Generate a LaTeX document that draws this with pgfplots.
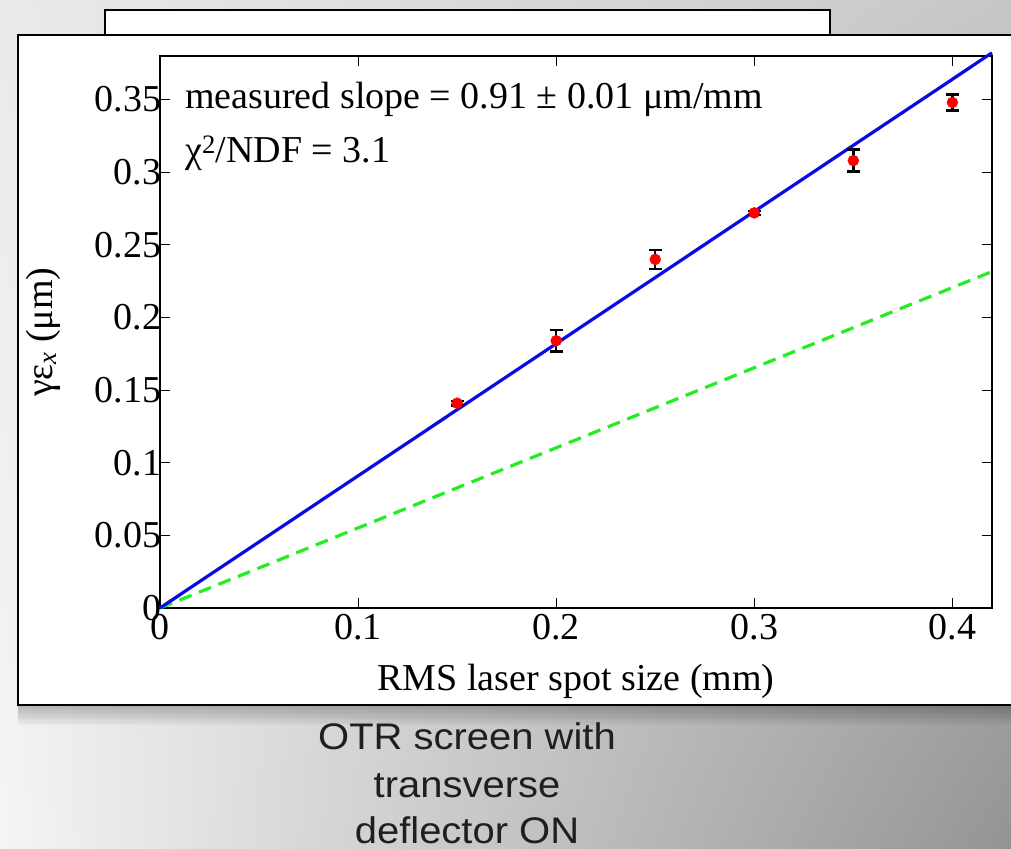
\documentclass[border=0pt]{standalone}
\usepackage{fontspec}
\setmainfont{Liberation Serif}
\newfontfamily\arialfont[FakeStretch=1.08]{Liberation Sans}
\usepackage{pgfplots}
\pgfplotsset{compat=1.18}
\usepackage{pgfplotstable}
\usetikzlibrary{shadings}
\definecolor{fitblue}{HTML}{0A0AE6}
\definecolor{refgreen}{HTML}{22EE22}

% spot size (mm), normalised emittance (um), error
\pgfplotstableread{
x     y      e
0.15  0.141  0.0015
0.20  0.184  0.0075
0.25  0.240  0.0065
0.30  0.272  0.0015
0.35  0.308  0.0075
0.40  0.348  0.0055
}\emitdata

\newcommand\bigserif{\fontsize{38}{38}\selectfont}

\begin{document}
\begin{tikzpicture}
\useasboundingbox (0,0) rectangle (1011pt,-848pt);
\clip (0,0) rectangle (1011pt,-848pt);
% slide background
\shade[upper left=black!8, upper right=black!22, lower left=black!4, lower right=black!42]
  (0,0) rectangle (1011pt,-848pt);
% frames
\fill[white, draw=black, line width=1.5pt] (105pt,-10pt) rectangle (830pt,-40pt);
\foreach \i in {1,...,8}
  \fill[black, opacity=0.03] (18pt,-705pt) rectangle (1020pt,{-705pt-2.5*\i pt});
\fill[white, draw=black, line width=1.5pt] (18pt,-35pt) rectangle (1020pt,-705pt);

\begin{axis}[
  at={(160pt,-608pt)}, anchor=south west,
  scale only axis, width=832pt, height=552pt,
  xmin=0, xmax=0.42, ymin=0, ymax=0.38,
  xtick={0,0.1,0.2,0.3,0.4},
  ytick={0,0.05,0.1,0.15,0.2,0.25,0.3,0.35},
  tick align=inside, major tick length=10pt,
  axis line style={black, line width=1.6pt},
  tick style={black, line width=1.1pt},
  /pgf/number format/.cd, fixed, precision=2, assume math mode=true,
  /pgfplots/.cd,
  ticklabel style={font=\bigserif},
  label style={font=\bigserif},
  xticklabel style={yshift=-3pt},
  yticklabel style={xshift=5pt},
  xlabel={RMS laser spot size (mm)},
  xlabel style={at={(axis description cs:0.5,-0.1486)}, anchor=base},
  ylabel={γε\textsubscript{\textit{x}} (μm)},
  ylabel style={at={(axis description cs:-0.14,0.5)}, anchor=center},
  clip=false,
]
\addplot[refgreen, line width=3.2pt, dash pattern=on 13pt off 8pt]
  coordinates {(0,0) (0.42,0.2316)};
\addplot[fitblue, line width=3.2pt]
  coordinates {(0,0) (0.42,0.3822)};
\addplot[only marks, mark=*, red, mark size=5.5pt,
  error bars/.cd, y dir=both, y explicit,
  error bar style={black, line width=2.4pt},
  error mark options={black, line width=2.4pt, mark size=6.5pt, rotate=90}]
  table[x=x, y=y, y error=e] {\emitdata};
\node[anchor=base west, font=\bigserif, inner sep=0pt]
  at (axis cs:0.0126,0.3439) {measured slope = 0.91 ± 0.01 μm/mm};
\node[anchor=base west, font=\bigserif, inner sep=0pt]
  at (axis cs:0.0126,0.3067) {χ\textsuperscript{2}/NDF = 3.1};
\end{axis}

\begin{scope}[every node/.style={anchor=base, inner sep=0pt, text=black!88,
    font=\arialfont\fontsize{37}{37}\selectfont}]
\node at (467pt,-749pt) {OTR screen with};
\node at (467pt,-797pt) {transverse};
\node at (467pt,-843pt) {deflector ON};
\end{scope}
\end{tikzpicture}
\end{document}
